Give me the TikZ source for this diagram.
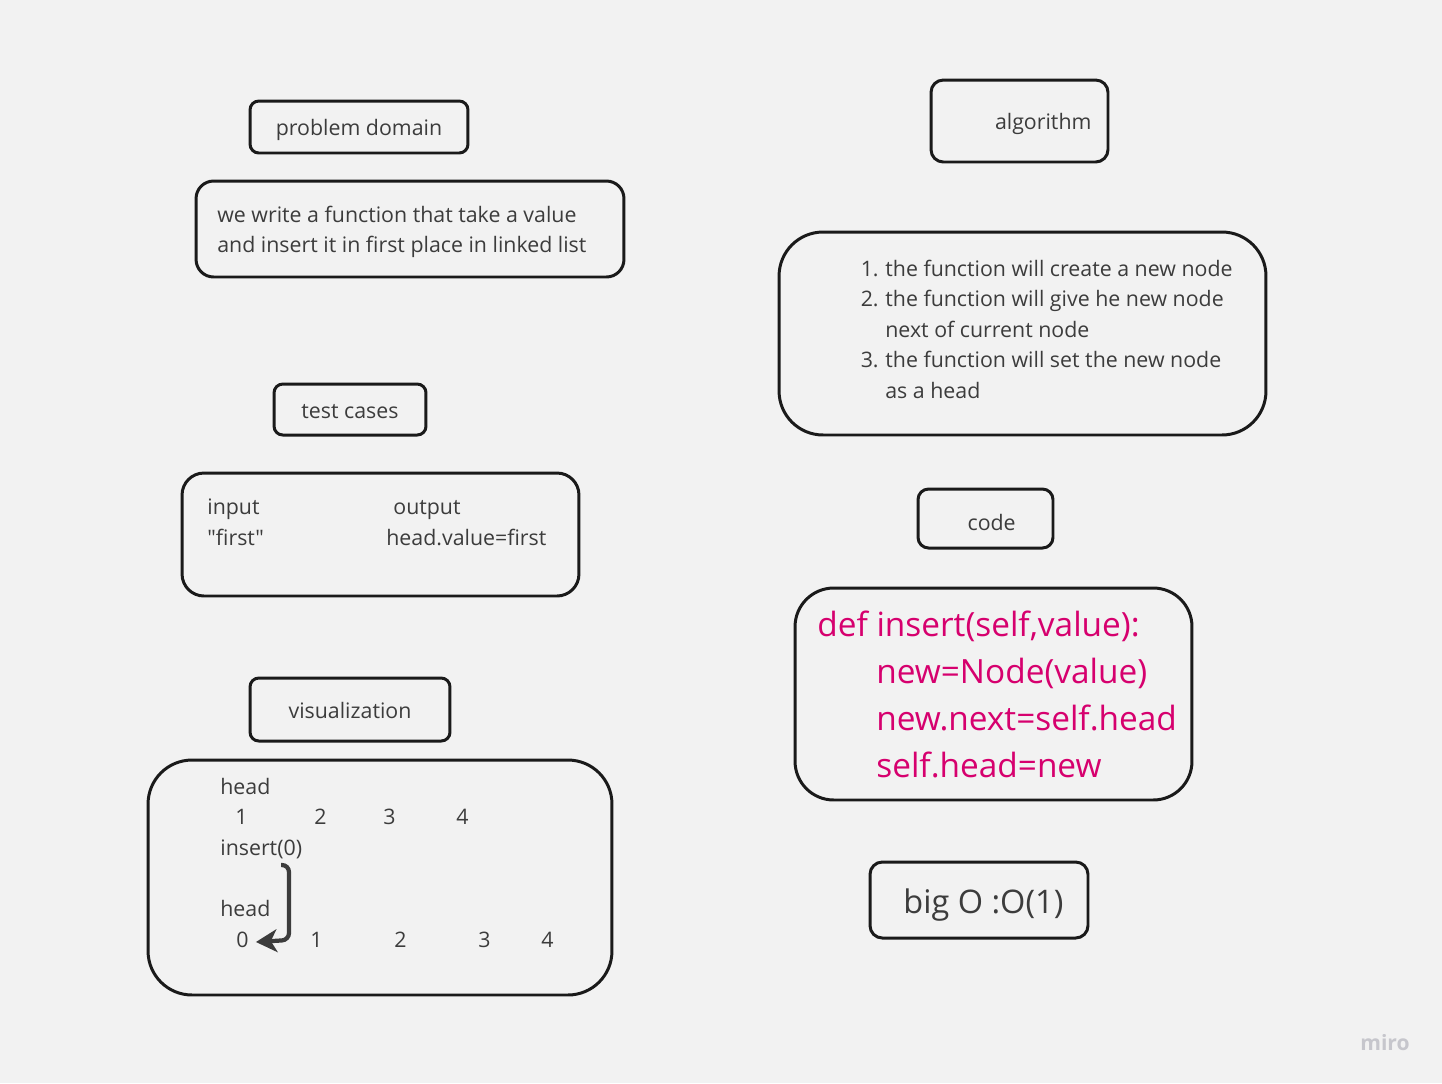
\documentclass[tikz,border=0pt]{standalone}
\usepackage{fontspec}
\setmainfont{Open Sans}[Ligatures=TeXOff]
\usetikzlibrary{arrows.meta,positioning}
\definecolor{canvas}{RGB}{242,242,242}
\definecolor{ink}{RGB}{26,26,26}
\definecolor{codepink}{RGB}{214,0,110}
\definecolor{logo}{RGB}{198,198,204}
\newcommand{\tagtext}[2][1.7pt]{\raisebox{-#1}{#2}}
\tikzset{
  every picture/.style={font=\fontsize{12.15}{17}\selectfont},
  frame/.style={draw=ink,line width=1.7pt},
  tag/.style={frame,rounded corners=5pt,inner sep=0pt,text=ink!85,
    text height=0.97em,text depth=0.25em},
  panel/.style={frame,inner sep=0pt},
  txt/.style={inner sep=0pt,anchor=west,text=ink!85,text height=1.5ex,text depth=.25ex,yshift=-1.7pt},
  codetxt/.style={txt,text=codepink,font=\fontsize{19}{24}\selectfont},
  link/.style={draw=ink!85,line width=2.4pt,rounded corners=4pt,
    -{Stealth[length=12pt,width=13pt,inset=3.5pt]}},
}
\begin{document}
\begin{tikzpicture}[x=0.02cm,y=-0.02cm]
  \fill[canvas] (0,0) rectangle (1442,1083);

  % left column
  \node[tag,minimum width=4.36cm,minimum height=1.04cm] (domaintag) at (359,127) {\tagtext[1.1pt]{problem domain}};
  \node[panel,rounded corners=10pt,minimum width=8.56cm,minimum height=1.92cm] (domainbox) at (410,229) {};
  \node[txt] (domain1) at (217,214) {we write a function that take a value};
  \node[txt] (domain2) at (217,244) {and insert it in first place in linked list};

  \node[tag,minimum width=3.04cm,minimum height=1.02cm] (teststag) at (350,409.5) {\tagtext{test cases}};
  \node[panel,rounded corners=12.5pt,minimum width=7.94cm,minimum height=2.46cm] (testsbox) at (380.5,534.5) {};
  \node[txt] (inlab) at (207,506) {input};
  \node[txt] (outlab) at (393,506) {output};
  \node[txt] (inval) at (207,537) {"first"};
  \node[txt] (outval) at (386,537) {head.value=first};

  \node[tag,minimum width=4.0cm,minimum height=1.26cm] (viztag) at (350,709.5) {\tagtext{visualization}};
  \node[panel,rounded corners=25pt,minimum width=9.28cm,minimum height=4.7cm] (vizbox) at (380,877.5) {};
  \node[txt] (headA) at (220,786) {head};
  \foreach \x/\v in {235/1,314/2,383/3,456/4}
    \node[txt] (a\v) at (\x,816) {\v};
  \node[txt] (insert) at (220,847) {insert(0)};
  \node[txt] (headB) at (220,908) {head};
  \node[txt] (zero) at (236,939) {0};
  \foreach \x/\v in {310/1,394/2,478/3,541/4}
    \node[txt] (b\v) at (\x,939) {\v};
  \coordinate (hook) at (281,865);
  \draw[link] (hook) -- (289,865) -- (289,940) -- ([xshift=4pt]zero.east);

  % right column
  \node[tag,rounded corners=7pt,minimum width=3.54cm,minimum height=1.64cm] (algtag) at (1019.5,121) {\hspace*{27pt}\tagtext[1.1pt]{algorithm}};
  \node[panel,rounded corners=25pt,minimum width=9.74cm,minimum height=4.06cm] (algbox) at (1022.5,333.5) {};
  \foreach \y/\n/\t [count=\i] in {268/1./the function will create a new node,
                                   298/2./the function will give he new node,
                                   329//next of current node,
                                   359/3./the function will set the new node,
                                   390//as a head}{
    \node[txt,anchor=east] (algnum\i) at (879,\y) {\n};
    \node[txt] (algline\i) at (885,\y) {\t};
  }

  \node[tag,rounded corners=6pt,minimum width=2.7cm,minimum height=1.18cm] (codetag) at (985.5,518.5) {\hspace*{7pt}\tagtext[3.4pt]{code}};
  \node[panel,rounded corners=22pt,minimum width=7.94cm,minimum height=4.24cm] (codebox) at (993.5,694) {};
  \node[codetxt] (code1) at (817,628) {def insert(self,value):};
  \foreach \y/\t [count=\i from 2] in {675/new=Node(value),722/new.next=self.head,769/self.head=new}
    \node[codetxt] (code\i) at (876,\y) {\t};

  \node[tag,rounded corners=7pt,minimum width=4.36cm,minimum height=1.52cm,
        font=\fontsize{18.5}{22}\selectfont] (bigo) at (979,900) {\hspace*{5pt}\tagtext[4pt]{big O :O(1)}};

  \node[inner sep=0pt,text=logo,font=\fontsize{12}{14}\selectfont\bfseries] (miro) at (1385,1043) {miro};
\end{tikzpicture}
\end{document}
